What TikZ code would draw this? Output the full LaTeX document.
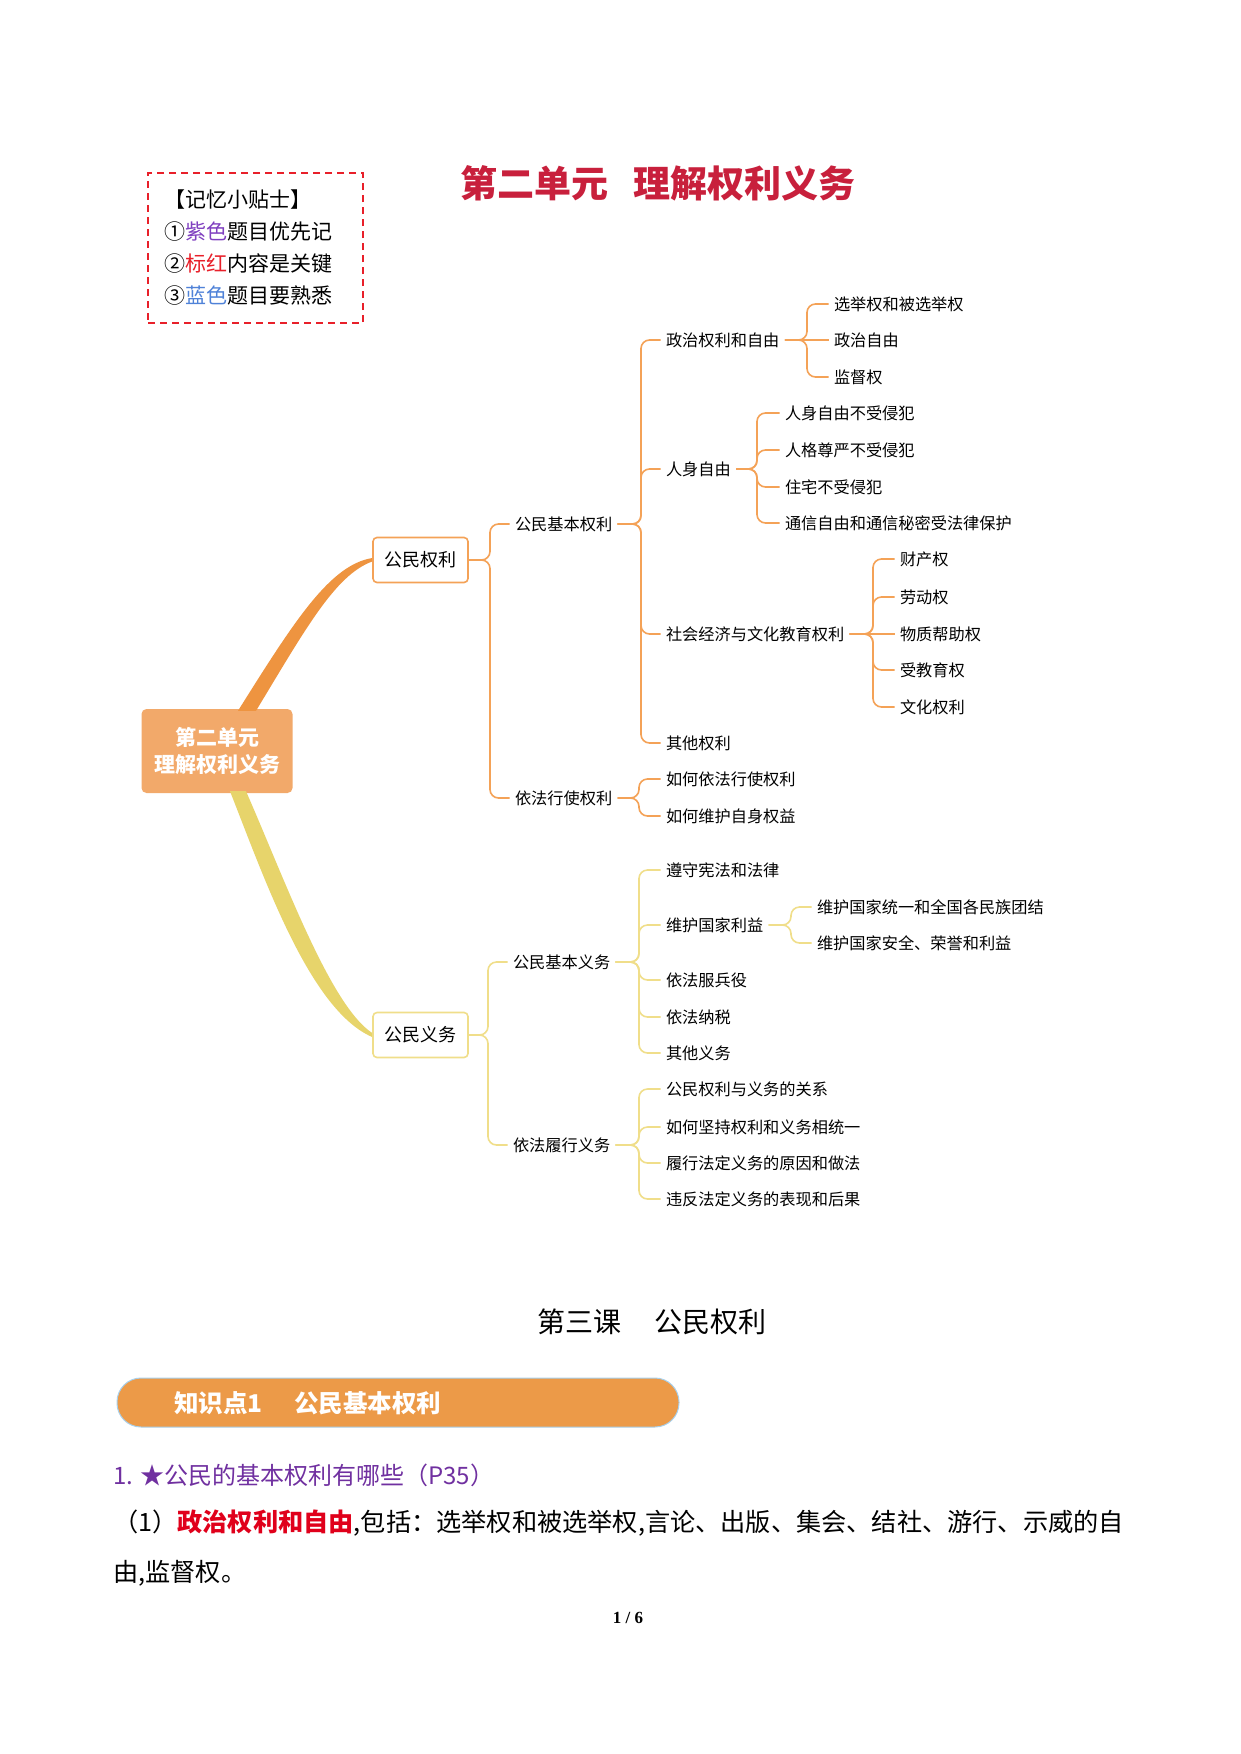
\documentclass[tikz,border=0pt]{standalone}
\usepackage{fontspec}
\setmainfont{Noto Sans CJK SC}
\newfontfamily\pnumfont{Liberation Serif}
\usetikzlibrary{calc}
\definecolor{obr}{HTML}{EE9440}
\definecolor{oline}{HTML}{F4A257}
\definecolor{cfill}{HTML}{F2A96A}
\definecolor{ybr}{HTML}{E7D46B}
\definecolor{yline}{HTML}{F0DE8A}
\definecolor{ttl}{HTML}{C8203C}
\definecolor{pur}{HTML}{7030A0}
\definecolor{rd}{HTML}{E0001B}
\definecolor{bnr}{HTML}{EC9A48}
\definecolor{bnrb}{HTML}{A8D0EC}
\definecolor{tipr}{HTML}{E8202A}
\definecolor{tippur}{HTML}{8040C0}
\definecolor{tipblue}{HTML}{4F82D8}
\newcommand\fsz[2]{\fontsize{#1}{#2}\selectfont}
\newcommand\brk[4]{\draw[#1] (#2.east) -- (#2.east -| #3) |- (#4.west);}
\tikzset{
  t/.style={anchor=west, inner sep=0.5pt, outer sep=5pt, xshift=-5.5pt, font=\fsz{16.2}{18}},
  ob/.style={draw=oline, line width=1.6pt, rounded corners=8.5pt},
  yb/.style={draw=yline, line width=1.6pt, rounded corners=8.5pt},
  mbox/.style={fill=white, line width=1.6pt, rounded corners=4pt, minimum width=95pt, minimum height=45pt, inner sep=0pt, font=\fsz{18}{20}},
}
\begin{document}
\begin{tikzpicture}[x=1pt,y=-1pt]
\useasboundingbox (0,0) rectangle (1241,1754);
\fill[white] (0,0) rectangle (1241,1754);

% memory tip box
\node[draw=tipr, dashed, dash pattern=on 7pt off 5pt, line width=1.8pt, minimum width=215pt, minimum height=150pt, inner sep=0pt] (tipbox) at (255.5,248) {};
\node[anchor=west, align=left, inner sep=0pt, font=\fsz{21}{32}] (tiptext) at (164,248)
 {【记忆小贴士】\\①\textcolor{tippur}{紫色}题目优先记\\②\textcolor{tipr}{标红}内容是关键\\③\textcolor{tipblue}{蓝色}题目要熟悉};

% title
\node[text=ttl, font=\fsz{37}{40}\bfseries, inner sep=0pt] (title) at (658,183) {第二单元\hspace{0.7em}理解权利义务};

% central and level-1 nodes
\node[fill=cfill, rounded corners=5pt, minimum width=151pt, minimum height=84pt, inner sep=0pt, text=white, align=center, font=\fsz{21}{27}\bfseries] (c) at (217,751) {第二单元\\理解权利义务};
\node[mbox, draw=oline] (qr) at (420.5,560) {公民权利};
\node[mbox, draw=yline] (qy) at (420.5,1035) {公民义务};

% tapered main branches
\fill[obr] ($(c.north)+(21,2)$) .. controls (295,620) and (330,565) .. ($(qr.west)+(0,-2)$)
  -- ($(qr.west)+(0,1.5)$) .. controls (335,575) and (305,630) .. ($(c.north)+(39,2)$) -- cycle;
\fill[ybr] ($(c.south)+(13,-2)$) .. controls (265,880) and (310,1010) .. ($(qy.west)+(0,2)$)
  -- ($(qy.west)+(0,-2)$) .. controls (330,1005) and (285,880) .. ($(c.south)+(29,-2)$) -- cycle;

% junction x positions
\coordinate (jq) at (490,0);
\coordinate (jjb) at (641,0);
\coordinate (jzz) at (807,0);
\coordinate (jrs) at (757,0);
\coordinate (jsh) at (873,0);
\coordinate (jyf) at (639,0);
\coordinate (jqy) at (488,0);
\coordinate (jjy) at (639,0);
\coordinate (jwh) at (791,0);
\coordinate (jlx) at (639,0);

% rights
\node[t] (jb) at (515,524) {公民基本权利};
\node[t] (yf) at (515,798) {依法行使权利};
\node[t] (zz) at (666,340) {政治权利和自由};
\node[t] (rs) at (666,469) {人身自由};
\node[t] (sh) at (666,634) {社会经济与文化教育权利};
\node[t] (qt) at (666,743) {其他权利};
\node[t] (a1) at (834,304) {选举权和被选举权};
\node[t] (a2) at (834,340) {政治自由};
\node[t] (a3) at (834,377) {监督权};
\node[t] (b1) at (785,413) {人身自由不受侵犯};
\node[t] (b2) at (785,450) {人格尊严不受侵犯};
\node[t] (b3) at (785,487) {住宅不受侵犯};
\node[t] (b4) at (785,523) {通信自由和通信秘密受法律保护};
\node[t] (d1) at (900,559) {财产权};
\node[t] (d2) at (900,597) {劳动权};
\node[t] (d3) at (900,634) {物质帮助权};
\node[t] (d4) at (900,670) {受教育权};
\node[t] (d5) at (900,707) {文化权利};
\node[t] (e1) at (666,779) {如何依法行使权利};
\node[t] (e2) at (666,816) {如何维护自身权益};

\brk{ob}{qr}{jq}{jb}
\brk{ob}{qr}{jq}{yf}
\brk{ob}{jb}{jjb}{zz}
\brk{ob}{jb}{jjb}{rs}
\brk{ob}{jb}{jjb}{sh}
\brk{ob}{jb}{jjb}{qt}
\brk{ob}{zz}{jzz}{a1}
\draw[ob] (zz.east) -- (a2.west);
\brk{ob}{zz}{jzz}{a3}
\brk{ob}{rs}{jrs}{b1}
\brk{ob}{rs}{jrs}{b2}
\brk{ob}{rs}{jrs}{b3}
\brk{ob}{rs}{jrs}{b4}
\brk{ob}{sh}{jsh}{d1}
\brk{ob}{sh}{jsh}{d2}
\draw[ob] (sh.east) -- (d3.west);
\brk{ob}{sh}{jsh}{d4}
\brk{ob}{sh}{jsh}{d5}
\brk{ob}{yf}{jyf}{e1}
\brk{ob}{yf}{jyf}{e2}

% duties
\node[t] (jy) at (513,962) {公民基本义务};
\node[t] (lx) at (513,1145) {依法履行义务};
\node[t] (f1) at (666,870) {遵守宪法和法律};
\node[t] (f2) at (666,925) {维护国家利益};
\node[t] (f3) at (666,980) {依法服兵役};
\node[t] (f4) at (666,1017) {依法纳税};
\node[t] (f5) at (666,1053) {其他义务};
\node[t] (g1) at (817,907) {维护国家统一和全国各民族团结};
\node[t] (g2) at (817,943) {维护国家安全、荣誉和利益};
\node[t] (h1) at (666,1089) {公民权利与义务的关系};
\node[t] (h2) at (666,1127) {如何坚持权利和义务相统一};
\node[t] (h3) at (666,1163) {履行法定义务的原因和做法};
\node[t] (h4) at (666,1199) {违反法定义务的表现和后果};

\brk{yb}{qy}{jqy}{jy}
\brk{yb}{qy}{jqy}{lx}
\brk{yb}{jy}{jjy}{f1}
\brk{yb}{jy}{jjy}{f2}
\brk{yb}{jy}{jjy}{f3}
\brk{yb}{jy}{jjy}{f4}
\brk{yb}{jy}{jjy}{f5}
\brk{yb}{f2}{jwh}{g1}
\brk{yb}{f2}{jwh}{g2}
\brk{yb}{lx}{jlx}{h1}
\brk{yb}{lx}{jlx}{h2}
\brk{yb}{lx}{jlx}{h3}
\brk{yb}{lx}{jlx}{h4}

% lower text
\node[inner sep=0pt, font=\fsz{28}{30}] (lesson) at (652,1322) {第三课\hspace{1.2em}公民权利};
\node[fill=bnr, draw=bnrb, line width=1pt, rounded corners=24pt, minimum width=562pt, minimum height=49pt, inner sep=0pt] (banner) at (398,1402.5) {};
\node[anchor=west, inner sep=0pt, text=white, font=\fsz{24.5}{26}\bfseries] (bantext) at (174,1403) {知识点1\hspace{1.3em}公民基本权利};
\node[anchor=west, inner sep=0pt, text=pur, font=\fsz{24}{26}] (q1) at (113,1475) {1. ★公民的基本权利有哪些（P35）};
\node[anchor=west, inner sep=0pt, font=\fsz{25.2}{28}] (p1) at (113,1523) {（1）\textcolor{rd}{\bfseries 政治权利和自由},包括：选举权和被选举权,言论、出版、集会、结社、游行、示威的自};
\node[anchor=west, inner sep=0pt, font=\fsz{25.2}{28}] (p2) at (113,1573) {由,监督权。};
\node[inner sep=0pt, font=\pnumfont\bfseries\fsz{17}{19}] (pg) at (628,1618) {1 / 6};
\end{tikzpicture}
\end{document}
